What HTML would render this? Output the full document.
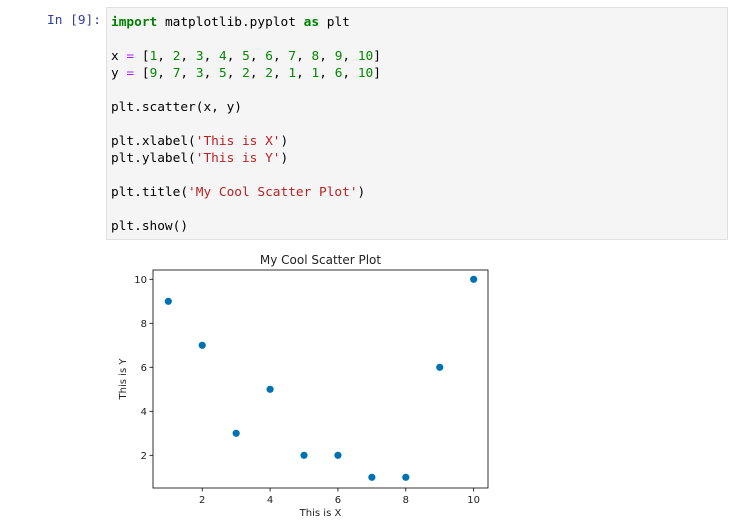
<!DOCTYPE html>
<html><head><meta charset="utf-8"><style>
body{margin:0;background:#fff;width:732px;height:524px;position:relative;overflow:hidden}
.prompt{position:absolute;left:47px;top:13px;font:12.8px "DejaVu Sans Mono",monospace;color:#303F9F}
.cell{position:absolute;left:106px;top:7px;width:622px;height:233px;background:#f5f5f5;border:1px solid #e0e0e0;box-sizing:border-box}
pre{margin:0;position:absolute;left:4px;top:6px;font:12.8px/17px "DejaVu Sans Mono",monospace;color:#000}
.k{color:#008000;font-weight:bold}.n{color:#008800}.s{color:#BA2121}.o{color:#AA22FF}
</style></head><body>
<div class="prompt">In [9]:</div>
<div class="cell"><pre><span class="k">import</span> matplotlib.pyplot <span class="k">as</span> plt

x <span class="o">=</span> [<span class="n">1</span>, <span class="n">2</span>, <span class="n">3</span>, <span class="n">4</span>, <span class="n">5</span>, <span class="n">6</span>, <span class="n">7</span>, <span class="n">8</span>, <span class="n">9</span>, <span class="n">10</span>]
y <span class="o">=</span> [<span class="n">9</span>, <span class="n">7</span>, <span class="n">3</span>, <span class="n">5</span>, <span class="n">2</span>, <span class="n">2</span>, <span class="n">1</span>, <span class="n">1</span>, <span class="n">6</span>, <span class="n">10</span>]

plt.scatter(x, y)

plt.xlabel(<span class="s">'This is X'</span>)
plt.ylabel(<span class="s">'This is Y'</span>)

plt.title(<span class="s">'My Cool Scatter Plot'</span>)

plt.show()</pre></div>
<svg id="chart" width="732" height="524" style="position:absolute;left:0;top:0" font-family="DejaVu Sans, sans-serif"></svg>
<script>
const xs=[1,2,3,4,5,6,7,8,9,10];
const ys=[9,7,3,5,2,2,1,1,6,10];
const xTicks=[2,4,6,8,10];
const yTicks=[2,4,6,8,10];
const svg=document.getElementById('chart');
const NS='http://www.w3.org/2000/svg';
const L=153,R=488,T=270,B=488;
function sx(v){return 168.3+(v-1)*33.93;}
function sy(v){return 477.3-(v-1)*22;}
function mk(tag,attrs,txt){const e=document.createElementNS(NS,tag);for(const k in attrs)e.setAttribute(k,attrs[k]);if(txt!=null)e.textContent=txt;svg.appendChild(e);return e;}
let e=mk('rect',{x:L,y:T,width:R-L,height:B-T,fill:'none',stroke:'#000','stroke-width':0.8});


xTicks.forEach(t=>{
 let l=mk('line',{x1:sx(t),x2:sx(t),y1:B,y2:B+3.5,stroke:'#000','stroke-width':0.8});
 
 
 let tx=mk('text',{x:sx(t),y:B+15,'font-size':10,'text-anchor':'middle',fill:'#222'},t);
 
 
});
yTicks.forEach(t=>{
 let l=mk('line',{x1:L-3.5,x2:L,y1:sy(t),y2:sy(t),stroke:'#000','stroke-width':0.8});
 
 
 let tx=mk('text',{x:L-6,y:sy(t)+3.5,'font-size':10,'text-anchor':'end',fill:'#222'},t);
 
 
});
xs.forEach((v,i)=>{
 let c=mk('circle',{cx:sx(v),cy:sy(ys[i]),r:3.6,fill:'#0072B2'});
 
 
});
e=mk('text',{x:(L+R)/2,y:264,'font-size':12,'text-anchor':'middle',fill:'#222'},'My Cool Scatter Plot');


e=mk('text',{x:(L+R)/2,y:516,'font-size':10,'text-anchor':'middle',fill:'#222'},'This is X');


e=mk('text',{x:0,y:0,'font-size':10,'text-anchor':'middle',fill:'#222',transform:'translate(126,379) rotate(-90)'},'This is Y');


</script>
</body></html>
